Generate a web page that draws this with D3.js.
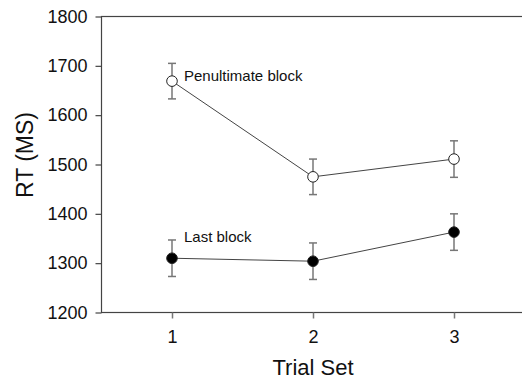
<!DOCTYPE html>
<html><head><meta charset="utf-8">
<script src="https://cdn.jsdelivr.net/npm/d3@7"></script>
<style>body{margin:0;background:#fff}svg{display:block;font-family:"Liberation Sans",Arial,sans-serif}</style>
</head><body>
<svg id="chart" width="522" height="381"></svg>
<script>
const trialSets = [1, 2, 3];
const penultimateMean = [1669, 1475, 1511];
const penultimateErr = [36, 36, 37];
const lastMean = [1310, 1304, 1363];
const lastErr = [37, 37, 37];
const yTicks = [1200, 1300, 1400, 1500, 1600, 1700, 1800];
const seriesLabels = ["Penultimate block", "Last block"];

const svg = d3.select("#chart");
const x = d3.scaleLinear().domain([0.5, 3.5]).range([101.5, 524.5]);
const y = d3.scaleLinear().domain([1200, 1800]).range([312.5, 16.5]);

// frame
svg.append("rect").attr("x", x(0.5)).attr("y", y(1800))
  .attr("width", x(3.5) - x(0.5)).attr("height", y(1200) - y(1800))
  .attr("fill", "none").attr("stroke", "#444").attr("stroke-width", 1.2);

const yAxis = svg.append("g").attr("transform", `translate(${x(0.5)},0)`)
  .call(d3.axisLeft(y).tickValues(yTicks).tickSize(6).tickPadding(8).tickFormat(d3.format("d")));
yAxis.select(".domain").remove();
yAxis.selectAll("line").attr("stroke", "#444").attr("stroke-width", 1.2);
yAxis.selectAll("text").attr("font-size", 18).attr("fill", "#111").attr("font-family", "Liberation Sans, Arial, sans-serif");

const xAxis = svg.append("g").attr("transform", `translate(0,${y(1200)})`)
  .call(d3.axisBottom(x).tickValues(trialSets).tickSize(6).tickPadding(12).tickFormat(d3.format("d")));
xAxis.select(".domain").remove();
xAxis.selectAll("line").attr("stroke", "#777").attr("stroke-width", 1.5);
xAxis.selectAll("text").attr("font-size", 18).attr("fill", "#111").attr("font-family", "Liberation Sans, Arial, sans-serif");

svg.append("text").attr("x", x(2)).attr("y", 375).attr("text-anchor", "middle")
  .attr("font-size", 22).attr("fill", "#111").text("Trial Set");
svg.append("text").attr("transform", `translate(33,155) rotate(-90)`).attr("text-anchor", "middle")
  .attr("font-size", 23).attr("fill", "#111").text("RT (MS)");

const series = [
  {mean: penultimateMean, err: penultimateErr, fill: "#fff"},
  {mean: lastMean, err: lastErr, fill: "#000"}
];
const line = d3.line().x((d, i) => x(trialSets[i])).y(d => y(d));
series.forEach(s => {
  const g = svg.append("g");
  s.mean.forEach((m, i) => {
    const cx = x(trialSets[i]);
    const e = s.err[i];
    g.append("line").attr("x1", cx).attr("x2", cx).attr("y1", y(m + e)).attr("y2", y(m - e))
      .attr("stroke", "#777").attr("stroke-width", 1.5);
    [m + e, m - e].forEach(v => g.append("line").attr("x1", cx - 4).attr("x2", cx + 4)
      .attr("y1", y(v)).attr("y2", y(v)).attr("stroke", "#777").attr("stroke-width", 1.5));
  });
  g.append("path").attr("d", line(s.mean)).attr("fill", "none").attr("stroke", "#444").attr("stroke-width", 1);
  g.selectAll("circle").data(s.mean).join("circle")
    .attr("cx", (d, i) => x(trialSets[i])).attr("cy", d => y(d)).attr("r", 5.3)
    .attr("fill", s.fill).attr("stroke", "#222").attr("stroke-width", 1);
});

svg.append("text").attr("x", 184).attr("y", y(penultimateMean[0]) - 0.5).attr("font-size", 15)
  .attr("fill", "#111").text(seriesLabels[0]);
svg.append("text").attr("x", 184).attr("y", 242).attr("font-size", 15)
  .attr("fill", "#111").text(seriesLabels[1]);
</script>
</body></html>
